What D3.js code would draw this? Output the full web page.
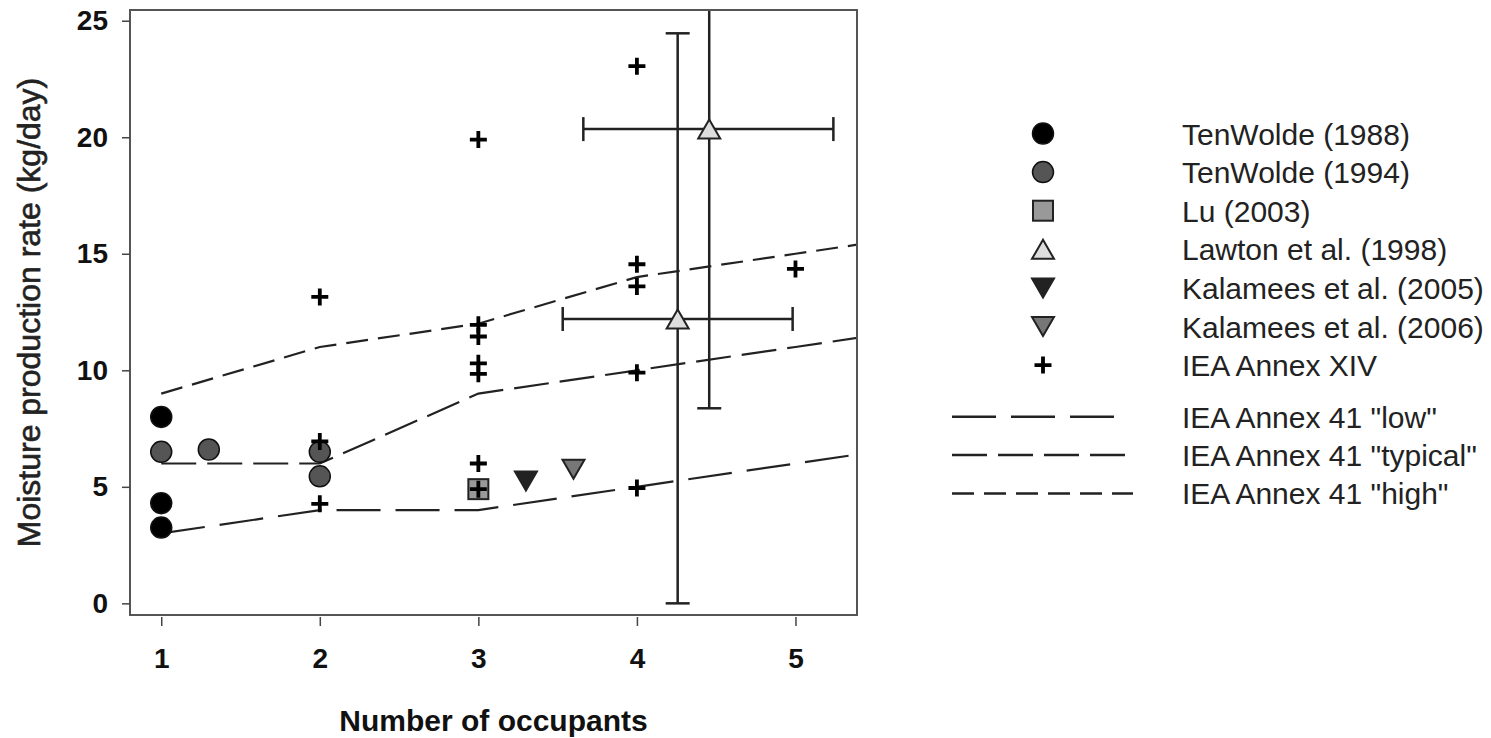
<!DOCTYPE html>
<html>
<head>
<meta charset="utf-8">
<script src="https://cdn.jsdelivr.net/npm/d3@7"></script>
<style>
html,body{margin:0;padding:0;background:#fff;}
svg{display:block;font-family:"Liberation Sans",Arial,sans-serif;}
.tick text{font-family:"Liberation Sans",Arial,sans-serif;font-weight:bold;font-size:28px;fill:#111;}
.tick line{stroke:#444;stroke-width:1.5;}
.legend-text{font-size:30px;fill:#222;}
</style>
</head>
<body>
<script>
//values: [occupants, kg/day]
const tenWolde1988 = [[1, 8.0], [1, 4.3], [1, 3.25]];
const tenWolde1994 = [[1, 6.5], [1.3, 6.6], [2, 6.5], [2, 5.45]];
const lu2003 = [[3, 4.9]];
const kalamees2005 = [[3.3, 5.25]];
const kalamees2006 = [[3.6, 5.75]];
const ieaXIV = [[2, 13.15], [2, 6.95], [2, 4.27], [3, 19.9], [3, 11.95], [3, 11.45], [3, 10.3], [3, 9.85],
  [3, 6.0], [3, 4.9], [4, 23.05], [4, 14.55], [4, 13.6], [4, 9.9], [4, 4.95], [5, 14.35]];
//Lawton et al. means with error ranges
const lawtonX = [4.456, 4.257];
const lawtonY = [20.35, 12.2];
const lawtonXRange = [[3.662, 5.239], [3.532, 4.982]];
const lawtonYRange = [[8.37, 32.3], [0, 24.46]];
//IEA Annex 41 design values
const annexOccupants = [1, 2, 3, 4, 5, 6];
const annexLow = [3, 4, 4, 5, 6, 7];
const annexTypical = [6, 6, 9, 10, 11, 12];
const annexHigh = [9, 11, 12, 14, 15, 16];
//ticks
const xTicks = [1, 2, 3, 4, 5];
const yTicks = [0, 5, 10, 15, 20, 25];
//legend
const legendLabels = ["TenWolde (1988)", "TenWolde (1994)", "Lu (2003)", "Lawton et al. (1998)",
  "Kalamees et al. (2005)", "Kalamees et al. (2006)", "IEA Annex XIV"];
const legendLineLabels = ['IEA Annex 41 "low"', 'IEA Annex 41 "typical"', 'IEA Annex 41 "high"'];

const width = 1491, height = 738;
const margin = {top: 10, right: 634, bottom: 123, left: 130};
const innerWidth = width - margin.left - margin.right;
const innerHeight = height - margin.top - margin.bottom;

const styles = [
  {shape: "circle", fill: "#000"},
  {shape: "circle", fill: "#555"},
  {shape: "square", fill: "#999"},
  {shape: "up", fill: "#ddd"},
  {shape: "down", fill: "#222"},
  {shape: "down", fill: "#777"},
  {shape: "plus", fill: "none"}
];
const dashes = ["44,15", "35,11", "22,10"];

const svg = d3.select("body").append("svg")
  .attr("width", width).attr("height", height);

const innerChart = svg.append("g")
  .attr("transform", `translate(${margin.left}, ${margin.top})`);

const xScale = d3.scaleLinear().domain([0.803, 5.388]).range([0, innerWidth]);
const yScale = d3.scaleLinear().domain([-0.5, 25.46]).range([innerHeight, 0]);

svg.append("defs").append("clipPath").attr("id", "plotclip")
  .append("rect").attr("width", innerWidth).attr("height", innerHeight);

//marker drawing helper
const drawMarker = (g, style) => {
  if (style.shape === "circle") {
    g.append("circle").attr("r", 10.5).attr("fill", style.fill).attr("stroke", "#111").attr("stroke-width", 1.5);
  } else if (style.shape === "square") {
    g.append("rect").attr("x", -10).attr("y", -10).attr("width", 20).attr("height", 20)
      .attr("fill", style.fill).attr("stroke", "#222").attr("stroke-width", 2);
  } else if (style.shape === "up") {
    g.append("path").attr("d", "M0,-9.5L11,9.5L-11,9.5Z")
      .attr("fill", style.fill).attr("stroke", "#222").attr("stroke-width", 2);
  } else if (style.shape === "down") {
    g.append("path").attr("d", "M0,9.5L11,-9.5L-11,-9.5Z")
      .attr("fill", style.fill).attr("stroke", "#222").attr("stroke-width", 2);
  } else {
    g.append("path").attr("d", "M-8.5,0H8.5M0,-8.5V8.5")
      .attr("stroke", "#000").attr("stroke-width", 3.8);
  }
};

const plot = innerChart.append("g").attr("clip-path", "url(#plotclip)");

//Annex 41 lines
[annexLow, annexTypical, annexHigh].forEach((vals, i) => {
  const line = d3.line()
    .x((d, j) => xScale(annexOccupants[j]))
    .y(d => yScale(d));
  plot.append("path")
    .attr("d", line(vals))
    .attr("fill", "none")
    .attr("stroke", "#222")
    .attr("stroke-width", 2.2)
    .attr("stroke-dasharray", dashes[i]);
});

//Lawton error bars
const cap = 12;
lawtonX.forEach((xv, i) => {
  const cx = xScale(xv), cy = yScale(lawtonY[i]);
  const x0 = xScale(lawtonXRange[i][0]), x1 = xScale(lawtonXRange[i][1]);
  const y0 = yScale(lawtonYRange[i][0]), y1 = yScale(lawtonYRange[i][1]);
  const eb = plot.append("g").attr("stroke", "#222").attr("stroke-width", 2.5).attr("fill", "none");
  eb.append("line").attr("x1", x0).attr("x2", x1).attr("y1", cy).attr("y2", cy);
  eb.append("line").attr("x1", x0).attr("x2", x0).attr("y1", cy - cap).attr("y2", cy + cap);
  eb.append("line").attr("x1", x1).attr("x2", x1).attr("y1", cy - cap).attr("y2", cy + cap);
  eb.append("line").attr("x1", cx).attr("x2", cx).attr("y1", y0).attr("y2", y1);
  eb.append("line").attr("x1", cx - cap).attr("x2", cx + cap).attr("y1", y0).attr("y2", y0);
  eb.append("line").attr("x1", cx - cap).attr("x2", cx + cap).attr("y1", y1).attr("y2", y1);
});

//point series
const lawtonPoints = lawtonX.map((xv, i) => [xv, lawtonY[i]]);
const series = [tenWolde1988, tenWolde1994, lu2003, lawtonPoints, kalamees2005, kalamees2006, ieaXIV];
series.forEach((data, i) => {
  plot.append("g")
    .selectAll("g")
    .data(data)
    .join("g")
      .attr("transform", d => `translate(${xScale(d[0])}, ${yScale(d[1])})`)
      .each(function() { drawMarker(d3.select(this), styles[i]); });
});

//frame
innerChart.append("rect")
  .attr("width", innerWidth).attr("height", innerHeight)
  .attr("fill", "none").attr("stroke", "#555").attr("stroke-width", 2);

//axes
const bottomAxis = d3.axisBottom(xScale).tickValues(xTicks).tickFormat(d3.format("d"))
  .tickSize(9).tickPadding(22).tickSizeOuter(0);
innerChart.append("g")
  .attr("transform", `translate(0, ${innerHeight + 2})`)
  .call(bottomAxis)
  .call(g => g.select(".domain").remove());

const leftAxis = d3.axisLeft(yScale).tickValues(yTicks).tickFormat(d3.format("d"))
  .tickSize(8).tickPadding(14).tickSizeOuter(0);
innerChart.append("g")
  .call(leftAxis)
  .call(g => g.select(".domain").remove());

//axis labels
svg.append("text")
  .text("Number of occupants")
  .attr("x", margin.left + innerWidth / 2)
  .attr("y", 731)
  .attr("text-anchor", "middle")
  .attr("font-weight", "bold")
  .attr("font-size", 30)
  .attr("fill", "#111");

svg.append("text")
  .text("Moisture production rate (kg/day)")
  .attr("transform", `translate(29, ${margin.top + innerHeight / 2}) rotate(-90)`)
  .attr("text-anchor", "middle")
  .attr("dominant-baseline", "central")
  .attr("font-size", 32)
  .attr("fill", "#222")
  .attr("stroke", "#222")
  .attr("stroke-width", 0.6);

//legend
const legend = svg.append("g");
const rowY0 = 133.5, rowStep = 38.6;
legendLabels.forEach((label, i) => {
  const y = rowY0 + i * rowStep;
  const m = legend.append("g").attr("transform", `translate(1043, ${y})`);
  drawMarker(m, styles[i]);
  legend.append("text").attr("class", "legend-text")
    .attr("x", 1182).attr("y", y + 11).text(label);
});
const lineY0 = 416.8, lineStep = 38.3;
const lineEnds = [1120, 1125, 1133];
legendLineLabels.forEach((label, i) => {
  const y = lineY0 + i * lineStep;
  legend.append("line")
    .attr("x1", 952).attr("x2", lineEnds[i])
    .attr("y1", y).attr("y2", y)
    .attr("stroke", "#222").attr("stroke-width", 2.5)
    .attr("stroke-dasharray", dashes[i]);
  legend.append("text").attr("class", "legend-text")
    .attr("x", 1182).attr("y", y + 11).text(label);
});
</script>
</body>
</html>
